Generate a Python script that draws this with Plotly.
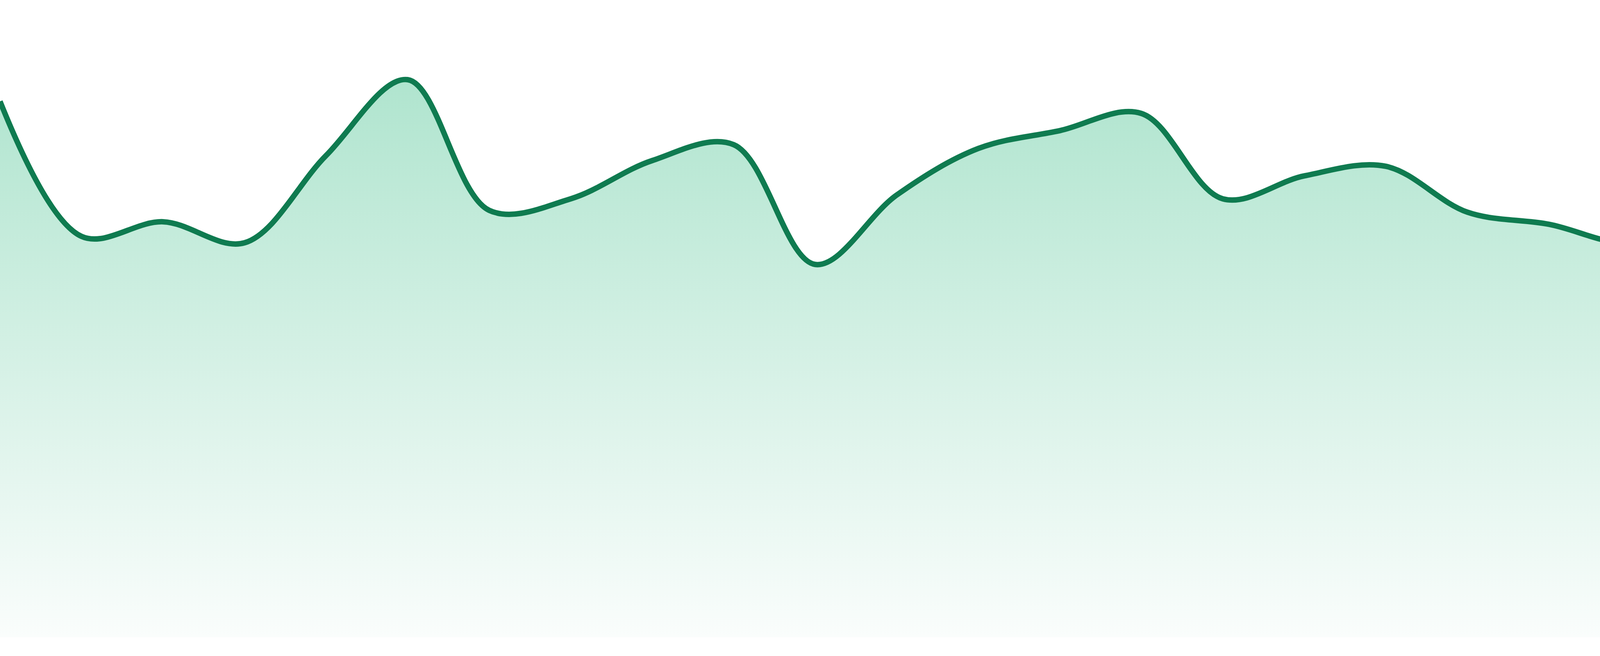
import plotly.graph_objects as go

# readings, one per step along the x axis
steps = list(range(24))
values = [84.1, 62.9, 65.2, 61.9, 75.6, 87.5, 67.0, 68.8, 74.8, 77.3, 58.5, 69.4,
          76.7, 79.5, 82.2, 68.8, 72.4, 73.9, 66.7, 64.8, 61.8, 65.6, 62.4, 62.8]

line_color = "#0f7b50"
fill_scale = [[0, "rgb(250,253,252)"], [1, "rgb(165,225,200)"]]

fig = go.Figure()
fig.add_trace(go.Scatter(
    x=steps,
    y=values,
    mode="lines",
    line=dict(color=line_color, width=14, shape="spline", smoothing=1),
    fill="tozeroy",
    fillgradient=dict(type="vertical", colorscale=fill_scale, start=0, stop=100),
    hoverinfo="skip",
))

fig.update_layout(
    width=4800,
    height=1680,
    margin=dict(l=0, r=0, t=0, b=48),
    paper_bgcolor="white",
    plot_bgcolor="white",
    showlegend=False,
    xaxis=dict(visible=False, range=[0, 23]),
    yaxis=dict(visible=False, range=[0, 100]),
)

# the page's default body margin pushes the chart off the edges
fig.write_html("out.html", config={"displayModeBar": False},
               post_script="document.body.style.margin='0';")
